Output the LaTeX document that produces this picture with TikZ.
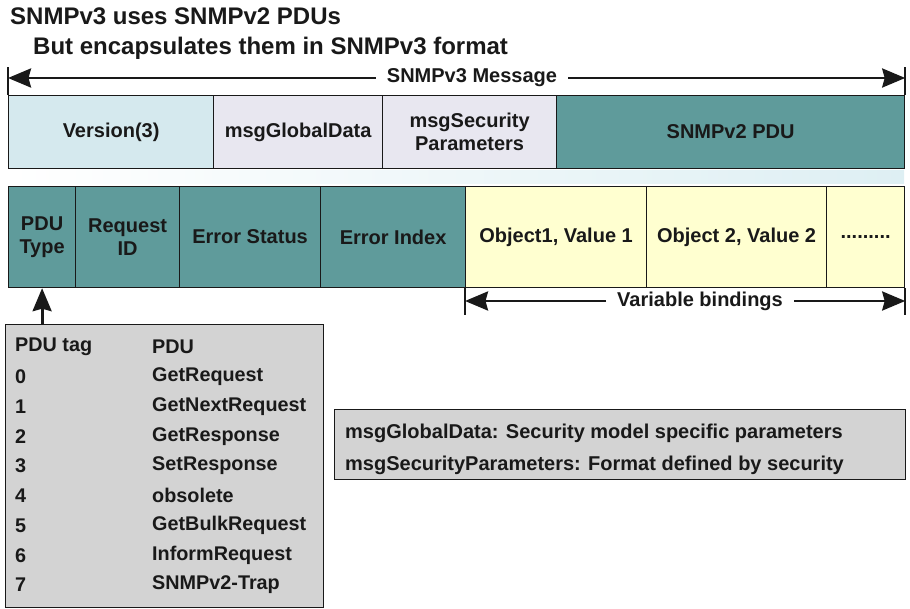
\documentclass[tikz,border=0pt]{standalone}
\usepackage{fontspec}
\setmainfont{Liberation Sans}
\usetikzlibrary{arrows.meta}
\definecolor{vercol}{RGB}{213,233,238}
\definecolor{msgcol}{RGB}{232,231,240}
\definecolor{tealcol}{RGB}{95,155,155}
\definecolor{yelcol}{RGB}{255,255,208}
\definecolor{graycol}{RGB}{211,211,211}
\definecolor{bandcol}{RGB}{222,239,243}
\definecolor{inkcol}{RGB}{25,25,25}
\begin{document}
\begin{tikzpicture}[x=1pt,y=-1pt,
  cell/.style={draw=inkcol, line width=1.2pt, inner sep=0pt, align=center,
    anchor=north west, text=inkcol, font=\fontsize{20}{23}\selectfont\bfseries},
  title/.style={anchor=base west, inner sep=0pt, text=inkcol,
    font=\fontsize{24}{27}\selectfont\bfseries},
  lbl/.style={inner xsep=11pt, inner ysep=3pt, fill=white, text=inkcol,
    font=\fontsize{20}{23}\selectfont\bfseries},
  tabtext/.style={anchor=west, inner sep=0pt, text=inkcol,
    font=\fontsize{19.8}{22}\selectfont\bfseries},
  bigarrow/.style={draw=inkcol, line width=2.8pt, -{Stealth[length=23pt,width=19pt,inset=2.5pt]}},
  tick/.style={draw=inkcol, line width=2pt}
]
\useasboundingbox (0,0) rectangle (910,609);

% titles
\node[title] (t1) at (10,25) {SNMPv3 uses SNMPv2 PDUs};
\node[title] (t2) at (33,55) {But encapsulates them in SNMPv3 format};

% faint band
\shade[left color=white, right color=bandcol] (8,171) rectangle (904,184);

% top row
\node[cell, fill=vercol, minimum width=205pt, minimum height=73pt] (ver) at (8,95) {Version(3)};
\node[cell, fill=msgcol, minimum width=169pt, minimum height=73pt] (gd) at (213,95) {msgGlobalData};
\node[cell, fill=msgcol, minimum width=174pt, minimum height=73pt] (sp) at (382,95) {msgSecurity\\Parameters};
\node[cell, fill=tealcol, minimum width=348pt, minimum height=73pt] (pdu) at (556,95) {SNMPv2 PDU};

% bottom row
\node[cell, fill=tealcol, minimum width=67pt, minimum height=101pt] (pt) at (8,186) {PDU\\Type};
\node[cell, fill=tealcol, minimum width=104pt, minimum height=101pt] (rid) at (75,186) {Request\\ID};
\node[cell, fill=tealcol, minimum width=141pt, minimum height=101pt] (es) at (179,186) {Error Status};
\node[cell, fill=tealcol, minimum width=145pt, minimum height=101pt] (ei) at (320,186) {Error Index};
\node[cell, fill=yelcol, minimum width=181pt, minimum height=101pt] (o1) at (465,186) {Object1, Value 1};
\node[cell, fill=yelcol, minimum width=180pt, minimum height=101pt] (o2) at (646,186) {Object 2, Value 2};
\node[cell, fill=yelcol, minimum width=78pt, minimum height=101pt] (dots) at (826,186) {.........};

% SNMPv3 message arrow
\draw[tick] (ver.north west) -- ++(0,-28) coordinate (mLt);
\draw[tick] (pdu.north east) -- ++(0,-28) coordinate (mRt);
\node[lbl] (msg) at (472,78) {SNMPv3 Message};
\coordinate (mL) at (msg.center -| ver.west);
\coordinate (mR) at (msg.center -| pdu.east);
\draw[bigarrow] (msg.west) -- (mL);
\draw[bigarrow] (msg.east) -- (mR);

% variable bindings arrow
\draw[tick] (o1.south west) -- ++(0,27);
\draw[tick] (dots.south east) -- ++(0,27);
\node[lbl] (vb) at (700,301) {Variable bindings};
\coordinate (vL) at (vb.center -| o1.west);
\coordinate (vR) at (vb.center -| dots.east);
\draw[bigarrow] (vb.west) -- (vL);
\draw[bigarrow] (vb.east) -- (vR);

% PDU tag table
\node[cell, fill=graycol, minimum width=318pt, minimum height=283pt] (tab) at (5,324) {};
\draw[bigarrow] (tab.north -| pt.south) -- (pt.south);
\node[tabtext] (h1) at (15,347) {PDU tag};
\node[tabtext] (h2) at (152,347) {PDU};
\foreach \n/\name [count=\i from 0] in {0/GetRequest,1/GetNextRequest,2/GetResponse,3/SetResponse,4/obsolete,5/GetBulkRequest,6/InformRequest,7/SNMPv2-Trap}{
  \node[tabtext] (tag\i) at (15,{377+29.7*\i}) {\n};
  \node[tabtext] (name\i) at (152,{377+29.7*\i}) {\name};
}

% notes box
\node[cell, fill=graycol, minimum width=571pt, minimum height=70pt] (note) at (334,409) {};
\node[tabtext, font=\fontsize{20}{23}\selectfont\bfseries] (n1) at (345,433) {msgGlobalData: Security model specific parameters};
\node[tabtext, font=\fontsize{20}{23}\selectfont\bfseries] (n2) at (345,465) {msgSecurityParameters: Format defined by security};
\end{tikzpicture}
\end{document}
